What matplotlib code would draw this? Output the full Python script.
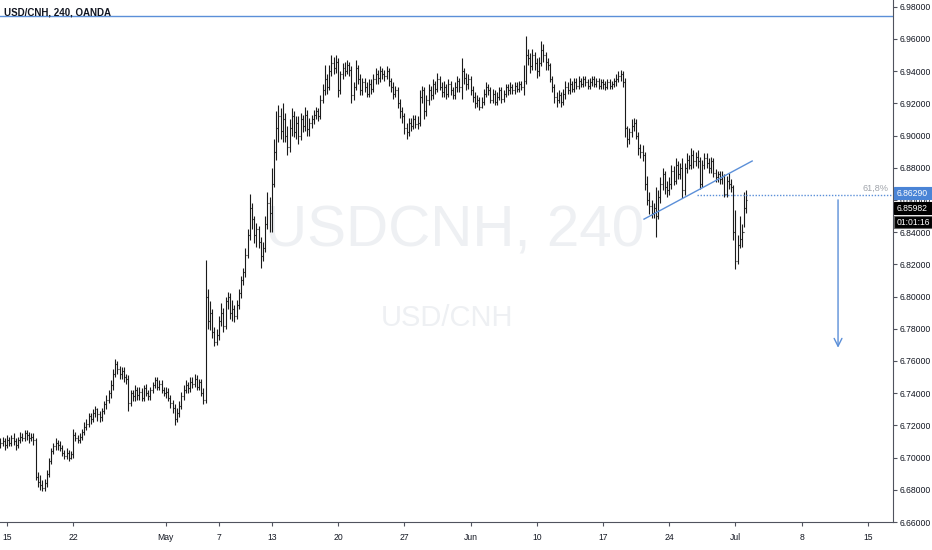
import numpy as np
import matplotlib.pyplot as plt
from matplotlib import font_manager
from matplotlib.collections import LineCollection
from matplotlib.patches import Rectangle

# USD/CNH 4h bars, one row per trading day (first row = last bars before Apr 15)
first_open = 6.708
close = [
    [6.709, 6.710, 6.708],
    [6.711, 6.709, 6.712, 6.710, 6.708, 6.711],
    [6.713, 6.712, 6.715, 6.714, 6.712, 6.713],
    [6.711, 6.688, 6.685, 6.683, 6.681, 6.684],
    [6.690, 6.698, 6.704, 6.707, 6.709, 6.708],
    [6.706, 6.703, 6.701, 6.703, 6.700, 6.702],
    [6.714, 6.712, 6.711, 6.713, 6.716, 6.719],
    [6.721, 6.726, 6.724, 6.728, 6.730, 6.727],
    [6.725, 6.729, 6.733, 6.736, 6.740, 6.745],
    [6.752, 6.758, 6.755, 6.752, 6.754, 6.750],
    [6.749, 6.734, 6.740, 6.738, 6.742, 6.739],
    [6.741, 6.737, 6.743, 6.740, 6.738, 6.742],
    [6.745, 6.748, 6.744, 6.746, 6.742, 6.740],
    [6.741, 6.737, 6.734, 6.731, 6.724, 6.728],
    [6.732, 6.738, 6.742, 6.745, 6.743, 6.747],
    [6.746, 6.749, 6.744, 6.747, 6.740, 6.736],
    [6.800, 6.785, 6.790, 6.778, 6.772, 6.776],
    [6.785, 6.790, 6.782, 6.797, 6.800, 6.790],
    [6.792, 6.788, 6.795, 6.802, 6.810, 6.815],
    [6.826, 6.838, 6.855, 6.848, 6.838, 6.842],
    [6.834, 6.825, 6.830, 6.845, 6.858, 6.852],
    [6.870, 6.890, 6.905, 6.912, 6.903, 6.910],
    [6.900, 6.893, 6.905, 6.912, 6.902, 6.908],
    [6.900, 6.910, 6.906, 6.913, 6.904, 6.908],
    [6.910, 6.913, 6.915, 6.912, 6.922, 6.928],
    [6.935, 6.930, 6.940, 6.945, 6.942, 6.946],
    [6.928, 6.938, 6.942, 6.940, 6.944, 6.941],
    [6.925, 6.930, 6.942, 6.935, 6.928, 6.933],
    [6.930, 6.926, 6.932, 6.929, 6.935, 6.938],
    [6.936, 6.940, 6.938, 6.937, 6.940, 6.934],
    [6.930, 6.926, 6.928, 6.920, 6.915, 6.912],
    [6.905, 6.902, 6.908, 6.906, 6.910, 6.907],
    [6.908, 6.924, 6.928, 6.915, 6.922, 6.928],
    [6.925, 6.932, 6.929, 6.935, 6.930, 6.927],
    [6.930, 6.926, 6.932, 6.928, 6.925, 6.930],
    [6.934, 6.930, 6.940, 6.936, 6.932, 6.935],
    [6.928, 6.924, 6.920, 6.922, 6.918, 6.921],
    [6.926, 6.930, 6.928, 6.922, 6.926, 6.921],
    [6.924, 6.928, 6.923, 6.926, 6.930, 6.928],
    [6.930, 6.928, 6.931, 6.929, 6.932, 6.930],
    [6.934, 6.950, 6.948, 6.943, 6.950, 6.945],
    [6.940, 6.945, 6.953, 6.950, 6.946, 6.944],
    [6.935, 6.930, 6.924, 6.922, 6.925, 6.921],
    [6.926, 6.930, 6.928, 6.932, 6.929, 6.933],
    [6.931, 6.934, 6.932, 6.935, 6.933, 6.931],
    [6.933, 6.935, 6.932, 6.934, 6.931, 6.933],
    [6.932, 6.930, 6.933, 6.931, 6.932, 6.934],
    [6.935, 6.937, 6.938, 6.933, 6.905, 6.898],
    [6.902, 6.906, 6.908, 6.900, 6.892, 6.890],
    [6.888, 6.870, 6.860, 6.856, 6.852, 6.855],
    [6.850, 6.862, 6.870, 6.876, 6.868, 6.866],
    [6.870, 6.878, 6.872, 6.882, 6.876, 6.880],
    [6.866, 6.880, 6.885, 6.882, 6.888, 6.884],
    [6.887, 6.884, 6.870, 6.882, 6.886, 6.883],
    [6.880, 6.884, 6.877, 6.874, 6.876, 6.873],
    [6.875, 6.864, 6.872, 6.870, 6.868, 6.840],
    [6.822, 6.832, 6.836, 6.840, 6.855, 6.85982],
]
high = [
    [6.712, 6.713, 6.712],
    [6.714, 6.713, 6.714, 6.715, 6.712, 6.713],
    [6.716, 6.715, 6.717, 6.717, 6.716, 6.715],
    [6.715, 6.712, 6.691, 6.689, 6.686, 6.687],
    [6.692, 6.700, 6.706, 6.709, 6.712, 6.711],
    [6.710, 6.708, 6.705, 6.706, 6.705, 6.704],
    [6.718, 6.716, 6.714, 6.715, 6.718, 6.722],
    [6.724, 6.728, 6.728, 6.730, 6.732, 6.731],
    [6.729, 6.731, 6.735, 6.739, 6.742, 6.748],
    [6.755, 6.761, 6.760, 6.757, 6.756, 6.756],
    [6.752, 6.751, 6.742, 6.742, 6.745, 6.744],
    [6.744, 6.743, 6.745, 6.746, 6.742, 6.744],
    [6.747, 6.750, 6.750, 6.748, 6.748, 6.744],
    [6.744, 6.743, 6.739, 6.736, 6.733, 6.731],
    [6.735, 6.741, 6.745, 6.748, 6.747, 6.750],
    [6.750, 6.752, 6.751, 6.749, 6.749, 6.743],
    [6.823, 6.805, 6.797, 6.792, 6.781, 6.780],
    [6.788, 6.796, 6.793, 6.800, 6.803, 6.802],
    [6.798, 6.795, 6.798, 6.805, 6.813, 6.818],
    [6.830, 6.842, 6.864, 6.858, 6.850, 6.846],
    [6.844, 6.837, 6.834, 6.850, 6.865, 6.862],
    [6.880, 6.898, 6.915, 6.919, 6.917, 6.920],
    [6.914, 6.906, 6.910, 6.917, 6.915, 6.912],
    [6.912, 6.914, 6.913, 6.918, 6.916, 6.911],
    [6.913, 6.916, 6.918, 6.917, 6.925, 6.932],
    [6.944, 6.938, 6.944, 6.950, 6.949, 6.950],
    [6.948, 6.940, 6.945, 6.946, 6.947, 6.946],
    [6.943, 6.933, 6.947, 6.944, 6.938, 6.936],
    [6.936, 6.933, 6.935, 6.935, 6.938, 6.942],
    [6.941, 6.943, 6.942, 6.941, 6.943, 6.942],
    [6.936, 6.933, 6.931, 6.930, 6.923, 6.918],
    [6.914, 6.908, 6.911, 6.911, 6.913, 6.913],
    [6.912, 6.928, 6.931, 6.930, 6.925, 6.932],
    [6.931, 6.935, 6.934, 6.939, 6.937, 6.933],
    [6.934, 6.932, 6.935, 6.934, 6.930, 6.933],
    [6.937, 6.936, 6.948, 6.942, 6.939, 6.938],
    [6.937, 6.931, 6.927, 6.925, 6.924, 6.924],
    [6.929, 6.933, 6.932, 6.930, 6.929, 6.928],
    [6.927, 6.930, 6.930, 6.928, 6.932, 6.932],
    [6.933, 6.932, 6.933, 6.933, 6.934, 6.934],
    [6.944, 6.962, 6.954, 6.951, 6.954, 6.952],
    [6.948, 6.949, 6.959, 6.957, 6.952, 6.948],
    [6.945, 6.937, 6.932, 6.927, 6.928, 6.927],
    [6.929, 6.934, 6.933, 6.936, 6.934, 6.936],
    [6.936, 6.937, 6.936, 6.937, 6.937, 6.935],
    [6.936, 6.937, 6.937, 6.936, 6.936, 6.935],
    [6.935, 6.934, 6.935, 6.935, 6.934, 6.936],
    [6.938, 6.940, 6.941, 6.940, 6.936, 6.906],
    [6.905, 6.910, 6.911, 6.910, 6.902, 6.895],
    [6.894, 6.890, 6.875, 6.865, 6.860, 6.858],
    [6.868, 6.866, 6.874, 6.880, 6.878, 6.872],
    [6.874, 6.882, 6.881, 6.886, 6.884, 6.883],
    [6.886, 6.883, 6.889, 6.888, 6.892, 6.891],
    [6.890, 6.891, 6.887, 6.885, 6.889, 6.889],
    [6.886, 6.887, 6.886, 6.879, 6.878, 6.878],
    [6.878, 6.876, 6.875, 6.877, 6.873, 6.869],
    [6.854, 6.838, 6.850, 6.845, 6.865, 6.866],
]
low = [
    [6.706, 6.707, 6.705],
    [6.706, 6.707, 6.707, 6.708, 6.705, 6.706],
    [6.709, 6.710, 6.710, 6.711, 6.709, 6.710],
    [6.708, 6.686, 6.682, 6.680, 6.679, 6.679],
    [6.682, 6.688, 6.696, 6.702, 6.705, 6.705],
    [6.704, 6.701, 6.699, 6.699, 6.698, 6.699],
    [6.700, 6.710, 6.709, 6.709, 6.711, 6.714],
    [6.717, 6.719, 6.721, 6.722, 6.725, 6.723],
    [6.722, 6.723, 6.727, 6.730, 6.734, 6.737],
    [6.742, 6.750, 6.752, 6.749, 6.749, 6.747],
    [6.746, 6.729, 6.732, 6.735, 6.735, 6.736],
    [6.736, 6.735, 6.735, 6.738, 6.736, 6.736],
    [6.740, 6.743, 6.742, 6.742, 6.740, 6.738],
    [6.737, 6.735, 6.731, 6.728, 6.720, 6.722],
    [6.725, 6.730, 6.736, 6.740, 6.740, 6.741],
    [6.743, 6.744, 6.742, 6.742, 6.738, 6.733],
    [6.734, 6.780, 6.779, 6.774, 6.769, 6.770],
    [6.773, 6.782, 6.778, 6.780, 6.792, 6.786],
    [6.785, 6.784, 6.786, 6.792, 6.799, 6.807],
    [6.812, 6.824, 6.835, 6.842, 6.833, 6.831],
    [6.830, 6.818, 6.822, 6.828, 6.842, 6.840],
    [6.840, 6.868, 6.885, 6.896, 6.898, 6.896],
    [6.896, 6.888, 6.890, 6.900, 6.899, 6.898],
    [6.895, 6.897, 6.902, 6.903, 6.900, 6.900],
    [6.905, 6.907, 6.910, 6.909, 6.910, 6.920],
    [6.925, 6.926, 6.928, 6.937, 6.938, 6.939],
    [6.924, 6.926, 6.935, 6.937, 6.938, 6.937],
    [6.920, 6.922, 6.928, 6.932, 6.925, 6.925],
    [6.927, 6.924, 6.924, 6.926, 6.927, 6.932],
    [6.932, 6.933, 6.935, 6.934, 6.935, 6.931],
    [6.927, 6.923, 6.924, 6.917, 6.911, 6.908],
    [6.901, 6.898, 6.900, 6.903, 6.904, 6.905],
    [6.904, 6.906, 6.920, 6.910, 6.912, 6.919],
    [6.922, 6.923, 6.926, 6.927, 6.928, 6.924],
    [6.924, 6.923, 6.924, 6.925, 6.923, 6.923],
    [6.927, 6.927, 6.923, 6.932, 6.928, 6.929],
    [6.925, 6.921, 6.917, 6.918, 6.916, 6.917],
    [6.919, 6.924, 6.925, 6.920, 6.920, 6.919],
    [6.919, 6.922, 6.920, 6.921, 6.924, 6.925],
    [6.926, 6.926, 6.926, 6.927, 6.927, 6.928],
    [6.925, 6.932, 6.944, 6.939, 6.941, 6.941],
    [6.936, 6.937, 6.943, 6.946, 6.941, 6.941],
    [6.933, 6.927, 6.920, 6.918, 6.920, 6.918],
    [6.919, 6.923, 6.926, 6.926, 6.927, 6.927],
    [6.929, 6.929, 6.930, 6.930, 6.931, 6.929],
    [6.929, 6.931, 6.930, 6.930, 6.929, 6.929],
    [6.929, 6.928, 6.929, 6.929, 6.929, 6.930],
    [6.931, 6.933, 6.934, 6.930, 6.899, 6.893],
    [6.895, 6.899, 6.903, 6.898, 6.888, 6.886],
    [6.884, 6.866, 6.857, 6.851, 6.849, 6.849],
    [6.837, 6.848, 6.858, 6.866, 6.864, 6.862],
    [6.863, 6.867, 6.869, 6.870, 6.873, 6.873],
    [6.861, 6.863, 6.877, 6.879, 6.879, 6.880],
    [6.881, 6.880, 6.867, 6.868, 6.879, 6.880],
    [6.877, 6.877, 6.874, 6.871, 6.871, 6.870],
    [6.870, 6.862, 6.862, 6.867, 6.865, 6.835],
    [6.817, 6.820, 6.830, 6.831, 6.843, 6.852],
]

# date axis: trading-day offsets from Apr 15 and their labels
day_pos = [0, 5, 12, 16, 20, 25, 30, 35, 40, 45, 50, 55, 60, 65]
day_lbl = ['15', '22', 'May', '7', '13', '20', '27', 'Jun', '10', '17', '24', 'Jul', '8', '15']
bars_per_day = 6
price_ticks = np.arange(6.66, 6.9801, 0.02)

top_level = 6.9745
fib_level = 6.8629
last_price = 6.85982
countdown = '01:01:16'

c = np.concatenate([np.array(r) for r in close])
h = np.concatenate([np.array(r) for r in high])
l = np.concatenate([np.array(r) for r in low])
o = np.concatenate([[first_open], c[:-1]])
x = np.arange(len(c)) - 3  # first bars sit just before Apr 15

# pick a narrow face if one is installed, otherwise a smaller regular one
fkw = dict(family='Liberation Sans')
small = 6.2
for f in font_manager.fontManager.ttflist:
    if f.name in ('Liberation Sans Narrow', 'DejaVu Sans Condensed'):
        fkw = dict(family=f.name)
        small = 7.0
        break

blue = '#5b8fd8'
txt = '#131722'
W, H = 932, 550

fig = plt.figure(figsize=(9.32, 5.5), dpi=100)
ax = fig.add_axes([0, 28 / H, 893 / W, 522 / H])
ax.set_xlim(-3.17, 401.4)
ax.set_ylim(6.66, 6.9842)

# watermark
ax.text(0.509, 0.556, 'USDCNH, 240', transform=ax.transAxes, ha='center', va='center',
        fontsize=42, color='#eef0f3', zorder=0, **fkw)
ax.text(0.501, 0.391, 'USD/CNH', transform=ax.transAxes, ha='center', va='center',
        fontsize=21, color='#eef0f3', zorder=0, **fkw)

# OHLC bars
segs = []
for xi, oi, hi, li, ci in zip(x, o, h, l, c):
    segs.append([(xi, li), (xi, hi)])
    segs.append([(xi - 0.45, oi), (xi, oi)])
    segs.append([(xi, ci), (xi + 0.45, ci)])
ax.add_collection(LineCollection(segs, colors='#1a1a1a', linewidths=0.8, zorder=3))

# drawings
ax.axhline(top_level, color=blue, lw=1.0, zorder=2)
ax.plot([288.6, 337.6], [6.8481, 6.8842], color=blue, lw=1.0, zorder=4)
ax.plot([312.6, 401.4], [fib_level, fib_level], color=blue, lw=1.0, ls=(0, (1, 1.2)), zorder=4)
ax.text(0.995, fib_level + 0.0015, '61,8%', transform=ax.get_yaxis_transform(), ha='right',
        va='bottom', fontsize=small + 0.4, color='#a0a4ab', **fkw)
ax.annotate('', xy=(376.5, 6.7665), xytext=(376.5, 6.8618),
            arrowprops=dict(arrowstyle='->', color=blue, lw=1.0, mutation_scale=14))

# axes styling
for s in ['top', 'left']:
    ax.spines[s].set_visible(False)
ax.spines['right'].set_color('#50535e')
ax.spines['bottom'].set_color('#50535e')
ax.spines['right'].set_linewidth(0.8)
ax.spines['bottom'].set_linewidth(0.8)
ax.yaxis.tick_right()
ax.set_yticks(price_ticks)
ax.set_yticklabels(['%.5f' % v for v in price_ticks])
ax.set_xticks(np.array(day_pos) * bars_per_day)
ax.set_xticklabels(day_lbl)
ax.tick_params(axis='both', colors='#50535e', labelcolor=txt, labelsize=small, length=3, width=0.8)
ax.tick_params(axis='y', pad=1.5)
ax.tick_params(axis='x', pad=5)
for lab in ax.get_xticklabels() + ax.get_yticklabels():
    lab.set_family(fkw['family'])

# title
ax.text(0.004, 0.985, 'USD/CNH, 240, OANDA', transform=ax.transAxes, ha='left', va='top',
        fontsize=small + 0.8, color=txt, fontweight='bold', **fkw)

# price labels on the scale, stacked like the platform does (pixel rows from the top)
boxes = [('6.86290', 187, '#4a84d6', '#4a84d6'),
         ('6.85982', 202, '#000000', '#000000'),
         (countdown, 216, '#000000', '#666666')]
for s, top, fc, ec in boxes:
    fig.add_artist(Rectangle((894 / W, 1 - (top + 12) / H), 38 / W, 12 / H,
                             transform=fig.transFigure, fc=fc, ec=ec, lw=0.8, zorder=5))
    fig.text(897 / W, 1 - (top + 6.5) / H, s, ha='left', va='center', fontsize=small,
             color='white', zorder=6, **fkw)

fig.savefig('out.png', dpi=100, facecolor='white')
